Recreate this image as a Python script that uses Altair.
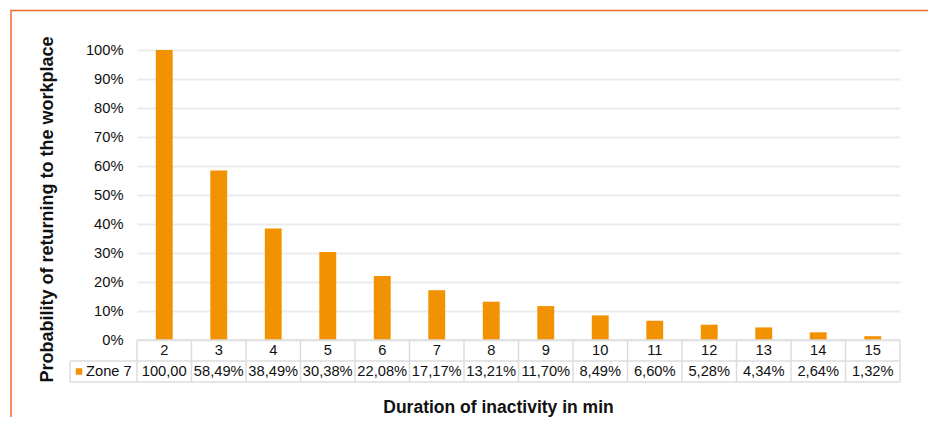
import altair as alt
import pandas as pd

# ---- data ----
categories = ["2", "3", "4", "5", "6", "7", "8", "9", "10", "11", "12", "13", "14", "15"]
values = [1.0000, 0.5849, 0.3849, 0.3038, 0.2208, 0.1717, 0.1321, 0.1170,
          0.0849, 0.0660, 0.0528, 0.0434, 0.0264, 0.0132]
value_labels = ["100,00", "58,49%", "38,49%", "30,38%", "22,08%", "17,17%", "13,21%",
                "11,70%", "8,49%", "6,60%", "5,28%", "4,34%", "2,64%", "1,32%"]
series_name = "Zone 7"
y_ticks = [0, 0.1, 0.2, 0.3, 0.4, 0.5, 0.6, 0.7, 0.8, 0.9, 1.0]
x_title = "Duration of inactivity in min"
y_title = "Probability of returning to the workplace"

# ---- styling ----
FONT = "Liberation Sans"
FS = 14.7
BAR = "#F39200"
FRAME = "#EE6A2C"
GRID = "#EBEBEB"
TABLE = "#DCDCDC"
TXT = "#111111"
W, H = 763, 290
ROW = 21

df = pd.DataFrame({"cat": categories, "value": values, "label": value_labels})
one = pd.DataFrame({"series": [series_name]})

x_axis = alt.Axis(labels=False, ticks=False, domain=False, grid=False,
                  title=x_title, titleFont=FONT, titleFontSize=17.5, titleFontWeight="bold",
                  titleColor=TXT, titleX=361, titleY=72, titleBaseline="alphabetic")
y_axis = alt.Axis(values=y_ticks, format=".0%", domain=False, ticks=False,
                  labelFont=FONT, labelFontSize=FS, labelColor=TXT, labelPadding=14,
                  gridColor=GRID, gridWidth=2,
                  title=y_title, titleFont=FONT, titleFontSize=18, titleFontWeight="bold",
                  titleColor=TXT, titleX=-85, titleY=159, titleBaseline="alphabetic",
                  titleAngle=-90)

xs = alt.Scale(paddingInner=0, paddingOuter=0)

bars = alt.Chart(df).mark_bar(width={"band": 0.31}, color=BAR).encode(
    x=alt.X("cat:N", sort=categories, scale=xs, axis=x_axis),
    y=alt.Y("value:Q", scale=alt.Scale(domain=[0, 1]), axis=y_axis),
)

# table grid lines
vlines = alt.Chart(df).mark_rule(color=TABLE, strokeWidth=1.5).encode(
    x=alt.X("cat:N", sort=categories, bandPosition=0),
    y=alt.value(H), y2=alt.value(H + 2 * ROW),
)
right_line = alt.Chart(one).mark_rule(color=TABLE, strokeWidth=1.5).encode(
    x=alt.value(W), y=alt.value(H), y2=alt.value(H + 2 * ROW))
left_line = alt.Chart(one).mark_rule(color=TABLE, strokeWidth=1.5).encode(
    x=alt.value(-67), y=alt.value(H + ROW), y2=alt.value(H + 2 * ROW))
top_line = alt.Chart(one).mark_rule(color=TABLE, strokeWidth=1.5).encode(
    x=alt.value(0), x2=alt.value(W), y=alt.value(H))
mid_line = alt.Chart(one).mark_rule(color=TABLE, strokeWidth=1.5).encode(
    x=alt.value(-67), x2=alt.value(W), y=alt.value(H + ROW))
bot_line = alt.Chart(one).mark_rule(color=TABLE, strokeWidth=1.5).encode(
    x=alt.value(-67), x2=alt.value(W), y=alt.value(H + 2 * ROW))

cat_text = alt.Chart(df).mark_text(font=FONT, fontSize=FS, color=TXT, baseline="middle").encode(
    x=alt.X("cat:N", sort=categories), y=alt.value(H + ROW / 2), text="cat:N")
val_text = alt.Chart(df).mark_text(font=FONT, fontSize=FS, color=TXT, baseline="middle").encode(
    x=alt.X("cat:N", sort=categories), y=alt.value(H + ROW * 1.5), text="label:N")

legend_sq = alt.Chart(one).mark_square(size=42, color=BAR, opacity=1).encode(
    x=alt.value(-58), y=alt.value(H + ROW * 1.5))
legend_txt = alt.Chart(one).mark_text(font=FONT, fontSize=FS, color=TXT, align="left",
                                      baseline="middle").encode(
    x=alt.value(-51), y=alt.value(H + ROW * 1.5), text="series:N")

frame = alt.Chart(one).mark_rect(fill="transparent", stroke=FRAME, strokeWidth=1.5).encode(
    x=alt.value(-126), x2=alt.value(792), y=alt.value(-39.5), y2=alt.value(420))

chart = alt.layer(
    bars, top_line, mid_line, bot_line, vlines, right_line, left_line,
    cat_text, val_text, legend_sq, legend_txt, frame,
).properties(
    width=W, height=H,
    padding={"left": 129, "top": 42, "right": 28, "bottom": 77},
    autosize=alt.AutoSizeParams(type="none"),
).configure_view(stroke="transparent")

chart.save("out.html", embed_options={"renderer": "svg", "actions": False})
